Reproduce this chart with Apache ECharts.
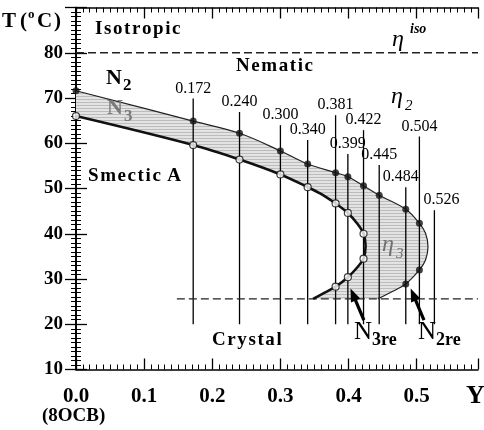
<!DOCTYPE html>
<html><head><meta charset="utf-8">
<script src="https://cdn.jsdelivr.net/npm/echarts@6/dist/echarts.min.js"></script>
<style>html,body{margin:0;padding:0;background:#fff}#c{width:484px;height:430px}</style>
</head><body><div id="c"></div>
<script>
// ---- data ----
const compositions = [0.172, 0.240, 0.300, 0.340, 0.381, 0.399, 0.422, 0.445, 0.484, 0.504, 0.526];
const compLabels   = ['0.172','0.240','0.300','0.340','0.381','0.399','0.422','0.445','0.484','0.504','0.526'];
const lineTopT     = [69.9, 66.9, 64.0, 60.7, 66.2, 57.6, 62.9, 55.2, 50.3, 61.5, 45.2];
const lineBottomT  = 20;

// N2 (upper / outer) boundary dots
const n2X = [0, 0.172, 0.240, 0.300, 0.340, 0.381, 0.399, 0.422, 0.445, 0.484, 0.504, 0.504, 0.484];
const n2T = [71.6, 64.9, 62.2, 58.3, 55.4, 53.5, 52.6, 50.6, 48.5, 45.4, 42.3, 32.0, 28.9];
// N3 (lower / inner) boundary dots
const n3X = [0, 0.172, 0.240, 0.300, 0.340, 0.381, 0.399, 0.422, 0.422, 0.399, 0.381];
const n3T = [66.0, 59.6, 56.4, 53.1, 50.3, 46.7, 44.6, 40.0, 34.5, 30.4, 28.3];

// outer curve
const outerX = [0, 0.172, 0.240, 0.300, 0.340, 0.381, 0.399, 0.422, 0.445, 0.484, 0.504, 0.513, 0.5166, 0.513, 0.504, 0.484, 0.465, 0.443];
const outerT = [71.6, 64.9, 62.2, 58.3, 55.4, 53.5, 52.6, 50.6, 48.5, 45.4, 42.3, 40.1, 37.1, 34.2, 32.0, 28.9, 27.3, 25.6];
// inner curve
const innerX = [0, 0.172, 0.240, 0.300, 0.340, 0.362, 0.381, 0.399, 0.413, 0.422, 0.425, 0.422, 0.413, 0.399, 0.381, 0.365, 0.348];
const innerT = [66.0, 59.6, 56.4, 53.1, 50.3, 48.6, 46.7, 44.6, 42.2, 40.0, 37.3, 34.5, 32.6, 30.4, 28.3, 27.0, 25.6];

const isoT = 80;
const crystalT = 25.6, crystalStartX = 0.148;

const arrowTail = [[0.4225, 20.9], [0.5107, 20.9]];
const arrowTip  = [[0.4029, 27.9], [0.4912, 27.9]];

const xMin = 0, xMax = 0.59, xInterval = 0.1;
const yMin = 10, yMax = 90, yInterval = 10;

// ---- chart ----
const SERIF = '"Liberation Serif", "Times New Roman", serif';
const pat = document.createElement('canvas');
pat.width = 4; pat.height = 3;
(function(){ const g = pat.getContext('2d'); g.fillStyle = '#e3e3e3'; g.fillRect(0,0,4,3); g.fillStyle = '#bcbcbc'; g.fillRect(0,0,4,1); })();

const bandPts = [];
for (let i = 0; i < outerX.length; i++) bandPts.push([outerX[i], outerT[i]]);
for (let i = innerX.length - 1; i >= 0; i--) bandPts.push([innerX[i], innerT[i]]);

const labelDx = {'0.484': -5, '0.526': 7};

const chart = echarts.init(document.getElementById('c'), null, {renderer: 'canvas'});

const axisCommon = {
  type: 'value',
  axisLine: {show: true, lineStyle: {color: '#000', width: 1.6}},
  axisTick: {show: true, inside: true, length: 11, lineStyle: {color: '#000', width: 1.3}},
  minorTick: {show: true, splitNumber: 10, length: 5, lineStyle: {color: '#000', width: 1}},
  splitLine: {show: false}
};

function txt(left, top, text, font, fill) {
  return {type: 'text', left: left, top: top, z: 100, style: {text: text, font: font, fill: fill || '#000'}};
}
const HS = '\u200A';
function spaced(s) { return s.split('').join(HS); }

const option = {
  animation: false,
  backgroundColor: '#fff',
  grid: {left: 76, right: 6, top: 7.5, bottom: 60.5, containLabel: false},
  xAxis: [
    Object.assign({}, axisCommon, {
      position: 'bottom', min: xMin, max: xMax, interval: xInterval,
      axisLabel: {color: '#000', fontFamily: SERIF, fontWeight: 'bold', fontSize: 21, margin: 17,
        formatter: v => (v > 0.55 ? '' : v.toFixed(1))}
    }),
    Object.assign({}, axisCommon, {
      position: 'top', min: xMin, max: xMax, interval: xInterval, axisLabel: {show: false}
    })
  ],
  yAxis: [
    Object.assign({}, axisCommon, {
      position: 'left', min: yMin, max: yMax, interval: yInterval,
      axisLabel: {color: '#000', fontFamily: SERIF, fontWeight: 'bold', fontSize: 19, margin: 13,
        formatter: v => (v > 85 ? '' : String(v))}
    }),
    Object.assign({}, axisCommon, {
      position: 'right', min: yMin, max: yMax, interval: yInterval, axisLabel: {show: false}
    })
  ],
  series: [
    { // shaded band
      type: 'custom', z: 1, silent: true,
      data: bandPts,
      renderItem: (params, api) => {
        if (params.dataIndex !== 0) return null;
        const pts = bandPts.map(p => api.coord(p));
        return {type: 'polygon', shape: {points: pts},
          style: {fill: {type: 'pattern', image: pat, repeat: 'repeat'}, stroke: null}};
      }
    },
    { // composition lines with labels
      type: 'custom', z: 2, silent: true,
      data: compositions.map((c, i) => [c, lineTopT[i], i]),
      renderItem: (params, api) => {
        const x = api.value(0), top = api.value(1), i = api.value(2);
        const p1 = api.coord([x, lineBottomT]), p2 = api.coord([x, top]);
        const lab = compLabels[i];
        return {type: 'group', children: [
          {type: 'line', shape: {x1: p1[0], y1: p1[1], x2: p2[0], y2: p2[1]}, style: {stroke: '#000', lineWidth: 1.3}},
          {type: 'text', x: p2[0] + (labelDx[lab] || 0), y: p2[1] - 2,
            style: {text: lab, textAlign: 'center', textVerticalAlign: 'bottom', font: '16px ' + SERIF, fill: '#000'}}
        ]};
      }
    },
    { // isotropic dashed line
      type: 'line', z: 3, symbol: 'none', silent: true,
      data: [[xMin, isoT], [xMax, isoT]],
      lineStyle: {color: '#222', width: 1.3, type: [8, 4]}
    },
    { // crystal dashed line
      type: 'line', z: 3, symbol: 'none', silent: true,
      data: [[crystalStartX, crystalT], [xMax, crystalT]],
      lineStyle: {color: '#222', width: 1.3, type: [8, 4]}
    },
    { // outer curve
      type: 'line', z: 4, symbol: 'none', smooth: 0.35, silent: true,
      data: outerX.map((x, i) => [x, outerT[i]]),
      lineStyle: {color: '#222', width: 1.2}
    },
    { // inner curve (bold)
      type: 'line', z: 4, symbol: 'none', smooth: 0.35, silent: true,
      data: innerX.map((x, i) => [x, innerT[i]]),
      lineStyle: {color: '#111', width: 2.6}
    },
    { // N2 dots
      type: 'scatter', z: 5, symbolSize: 7, silent: true,
      data: n2X.map((x, i) => [x, n2T[i]]),
      itemStyle: {color: '#111'}
    },
    { // N3 dots
      type: 'scatter', z: 5, symbolSize: 7, silent: true,
      data: n3X.map((x, i) => [x, n3T[i]]),
      itemStyle: {color: '#fff', borderColor: '#111', borderWidth: 1.2}
    },
    { // arrows
      type: 'custom', z: 6, silent: true,
      data: arrowTail.map((t, i) => [t[0], t[1], arrowTip[i][0], arrowTip[i][1]]),
      renderItem: (params, api) => {
        const a = api.coord([api.value(0), api.value(1)]);
        const b = api.coord([api.value(2), api.value(3)]);
        const dx = b[0] - a[0], dy = b[1] - a[1], L = Math.hypot(dx, dy);
        const ux = dx / L, uy = dy / L, hl = 13, hw = 5;
        const base = [b[0] - ux * hl, b[1] - uy * hl];
        return {type: 'group', children: [
          {type: 'line', shape: {x1: a[0], y1: a[1], x2: base[0] + ux * 2, y2: base[1] + uy * 2}, style: {stroke: '#000', lineWidth: 3.2}},
          {type: 'polygon', shape: {points: [b, [base[0] - uy * hw, base[1] + ux * hw], [base[0] + uy * hw, base[1] - ux * hw]]}, style: {fill: '#000'}}
        ]};
      }
    }
  ],
  graphic: [
    txt(2, 11, 'T', 'bold 21px ' + SERIF),
    txt(20, 11, '(', 'bold 21px ' + SERIF),
    txt(28, 8, 'o', 'bold 13px ' + SERIF),
    txt(37, 11, 'C', 'bold 21px ' + SERIF),
    txt(54, 11, ')', 'bold 21px ' + SERIF),
    txt(95, 20, spaced('Isotropic'), 'bold 19px ' + SERIF),
    txt(392, 28, '\u03B7', 'italic 24px ' + SERIF),
    txt(410, 22, 'iso', 'italic bold 14px ' + SERIF),
    txt(236, 57, spaced('Nematic'), 'bold 19px ' + SERIF),
    txt(106, 67, 'N', 'bold 22px ' + SERIF),
    txt(123, 77, '2', 'bold 17px ' + SERIF),
    txt(107, 97, 'N', 'bold 22px ' + SERIF, '#7a7a7a'),
    txt(124, 108, '3', 'bold 17px ' + SERIF, '#7a7a7a'),
    txt(391, 85, '\u03B7', 'italic 24px ' + SERIF),
    txt(405, 99, '2', 'italic 15px ' + SERIF),
    txt(88, 167, 'S' + HS + 'm' + HS + 'e' + HS + 'c' + HS + 't' + HS + 'i' + HS + 'c ' + HS + 'A', 'bold 19px ' + SERIF),
    txt(382, 233, '\u03B7', 'italic 24px ' + SERIF, '#707070'),
    txt(396, 247, '3', 'italic 15px ' + SERIF, '#707070'),
    txt(212, 331, spaced('Crystal'), 'bold 19px ' + SERIF),
    txt(354, 320, 'N', '25px ' + SERIF),
    txt(372, 331, '3re', 'bold 18px ' + SERIF),
    txt(418, 320, 'N', '25px ' + SERIF),
    txt(436, 331, '2re', 'bold 18px ' + SERIF),
    txt(466, 383, 'Y', 'bold 26px ' + SERIF),
    txt(42, 407, '(8OCB)', 'bold 19px ' + SERIF)
  ]
};
chart.setOption(option);
</script>
</body></html>
